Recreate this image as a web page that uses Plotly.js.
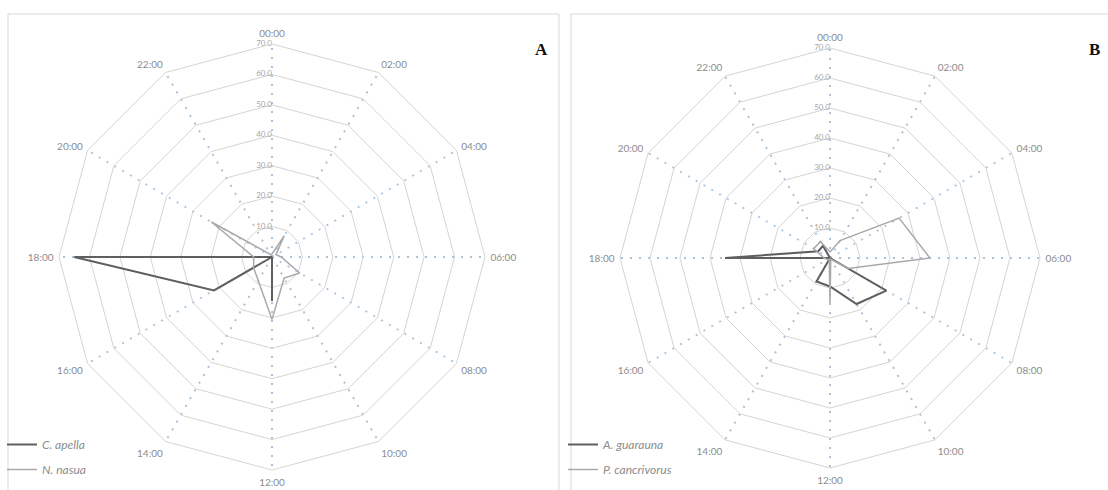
<!DOCTYPE html>
<html>
<head>
<meta charset="utf-8">
<script src="https://cdn.plot.ly/plotly-3.0.1.min.js"></script>
<style>
  html, body { margin: 0; padding: 0; background: #fff; }
  #chart { width: 1108px; height: 490px; }
</style>
</head>
<body>
<div id="chart"></div>
<script>
// Two-hourly activity (percentage of records) for four species
const hours = ['00:00', '02:00', '04:00', '06:00', '08:00', '10:00',
               '12:00', '14:00', '16:00', '18:00', '20:00', '22:00'];

// Panel A
const cApella = [0, 0, 0, 0, 0, 0, 14.5, 0, 22, 65, 0, 0];
const nNasua  = [1, 8, 1.5, 3, 10.5, 8, 20.5, 9, 7, 6, 23, 1];

// Panel B
const aGuarauna     = [0, 0, 0, 0, 21.7, 17.7, 9.5, 9, 0, 35, 4.5, 4.7];
const pCancrivorus  = [2, 6.7, 26.6, 33.3, 7, 0.5, 15, 0.5, 1, 2, 6.3, 6.3];

const radialTicks = [0, 10, 20, 30, 40, 50, 60, 70];

const DARK = '#5f5f5f';
const LIGHT = '#a9a9a9';
const GRID = '#d4d4d4';
const SPOKE = '#a8c3de';
const LABEL = '#8c8c8c';
const FONT = 'Lato, Noto Sans, sans-serif';

// Close each radar line back on its first category
function closed(arr) { return arr.concat([arr[0]]); }

function series(name, values, color, width, subplot, legend, group) {
  return {
    type: 'scatterpolar',
    mode: 'lines',
    name: name,
    r: closed(values),
    theta: closed(hours),
    subplot: subplot,
    legend: legend,
    legendgroup: group,
    line: { color: color, width: width },
    hoverinfo: 'skip'
  };
}

// Value scale printed to the left of the midnight spoke
function scaleLabels(subplot) {
  return {
    type: 'scatterpolar',
    mode: 'text',
    r: radialTicks,
    theta: radialTicks.map(() => hours[0]),
    text: radialTicks.map(v => v.toFixed(1)),
    textposition: 'middle left',
    textfont: { family: FONT, size: 8, color: '#a6a6a6' },
    subplot: subplot,
    showlegend: false,
    hoverinfo: 'skip',
    cliponaxis: false
  };
}

const traces = [
  scaleLabels('polar'),
  scaleLabels('polar2'),
  series('C. apella', cApella, DARK, 2, 'polar', 'legend', 'a1'),
  series('N. nasua', nNasua, LIGHT, 1.5, 'polar', 'legend', 'a2'),
  series('A. guarauna', aGuarauna, DARK, 2, 'polar2', 'legend2', 'b1'),
  series('P. cancrivorus', pCancrivorus, LIGHT, 1.5, 'polar2', 'legend2', 'b2')
];

function polarAxes(xDom, yDom) {
  return {
    domain: { x: xDom, y: yDom },
    bgcolor: '#ffffff',
    gridshape: 'linear',
    radialaxis: {
      range: [0, 70],
      tickvals: radialTicks,
      angle: 90,
      showticklabels: false,
      showline: false,
      ticks: '',
      gridcolor: GRID,
      gridwidth: 1
    },
    angularaxis: {
      type: 'category',
      categoryorder: 'array',
      categoryarray: hours,
      direction: 'clockwise',
      rotation: 90,
      showline: true,
      linecolor: GRID,
      linewidth: 1,
      gridcolor: SPOKE,
      griddash: '2px,7px',
      gridwidth: 2,
      ticks: 'outside',
      ticklen: 3,
      tickcolor: 'rgba(0,0,0,0)',
      tickfont: { family: FONT, size: 10, color: LABEL }
    }
  };
}

function legendBox(xPx, yPx) {
  return {
    x: xPx / 1108, y: 1 - yPx / 490,
    xanchor: 'left', yanchor: 'top',
    bgcolor: 'rgba(0,0,0,0)',
    borderwidth: 0,
    tracegroupgap: 6,
    itemwidth: 30,
    font: { family: FONT, size: 12, color: LABEL, style: 'italic' }
  };
}

const layout = {
  width: 1108,
  height: 490,
  margin: { l: 0, r: 0, t: 0, b: 0 },
  paper_bgcolor: '#ffffff',
  showlegend: true,
  polar: polarAxes([59 / 1108, 485 / 1108], [20 / 490, 446 / 490]),
  polar2: polarAxes([620 / 1108, 1040 / 1108], [22 / 490, 442 / 490]),
  legend: legendBox(2, 430),
  legend2: legendBox(563, 430),
  shapes: [
    { type: 'rect', xref: 'paper', yref: 'paper', x0: 8 / 1108, x1: 559 / 1108, y0: -0.01, y1: 1 - 14 / 490,
      line: { color: '#d9d9d9', width: 1 } },
    { type: 'rect', xref: 'paper', yref: 'paper', x0: 571 / 1108, x1: 1.01, y0: -0.01, y1: 1 - 14 / 490,
      line: { color: '#d9d9d9', width: 1 } }
  ],
  annotations: [
    { text: '<b>A</b>', xref: 'paper', yref: 'paper', x: 541 / 1108, y: 1 - 38 / 490,
      showarrow: false, font: { family: 'Liberation Serif, serif', size: 17, color: '#111' } },
    { text: '<b>B</b>', xref: 'paper', yref: 'paper', x: 1102 / 1108, y: 1 - 38 / 490,
      showarrow: false, font: { family: 'Liberation Serif, serif', size: 17, color: '#111' } }
  ]
};

Plotly.newPlot('chart', traces, layout, { staticPlot: true, displayModeBar: false });
</script>
</body>
</html>
